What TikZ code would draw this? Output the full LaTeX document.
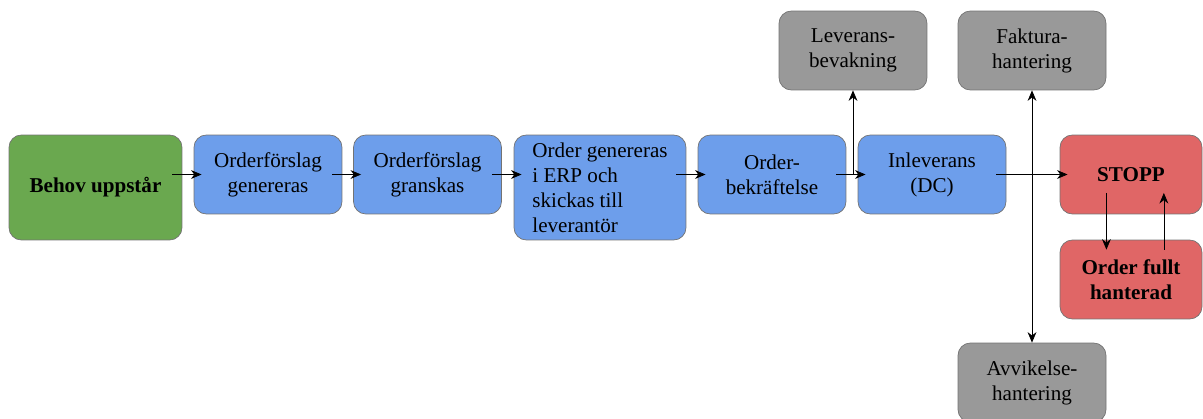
\documentclass[tikz,border=0pt]{standalone}
\usepackage{fontspec}
\setmainfont{Liberation Serif}
\usetikzlibrary{arrows.meta, positioning}
\definecolor{boxgreen}{HTML}{6AA84F}
\definecolor{boxblue}{HTML}{6D9EEB}
\definecolor{boxred}{HTML}{E06666}
\definecolor{boxgray}{HTML}{999999}
\begin{document}
\begin{tikzpicture}[x=0.02cm, y=-0.02cm,
    font=\fontsize{12}{14.2}\selectfont,
    stepnode/.style={rectangle, rounded corners=7pt, draw=black!55, thin, fill=boxblue, align=center, minimum width=2.96cm, minimum height=1.58cm, inner sep=2pt},
    startnode/.style={stepnode, fill=boxgreen, font=\fontsize{12}{14.2}\selectfont\bfseries, minimum width=3.46cm, minimum height=2.1cm},
    stopnode/.style={stepnode, fill=boxred, font=\fontsize{12}{14.2}\selectfont\bfseries, minimum width=2.84cm},
    sidenode/.style={stepnode, fill=boxgray},
    flow/.style={-{Stealth[length=6pt, width=5pt]}, thin, black},
    ]
    \useasboundingbox (0,0) rectangle (1203,419);
    %Nodes
    \node[startnode]  (behov)   at (95.5,187.5)  {Behov uppstår};
    \node[stepnode]   (forslag) at (268,174.5)   {Orderförslag\\genereras};
    \node[stepnode]   (granska) at (427.5,174.5) {Orderförslag\\granskas};
    \node[stepnode, minimum width=3.44cm, minimum height=2.1cm, align=left] (erp) at (600,187.5) {Order genereras\\i ERP och\\skickas till\\leverantör};
    \node[stepnode]   (bekr)    at (772,174.5)   {Order-\\bekräftelse};
    \node[stepnode]   (inlev)   at (932,174.5)   {Inleverans\\(DC)};
    \node[stopnode]   (stopp)   at (1131,174.5)  {STOPP};
    \node[stopnode]   (fullt)   at (1131,279.5)  {Order fullt\\hanterad};
    \node[sidenode]   (bevak)   at (853,50.5)    {Leverans-\\bevakning};
    \node[sidenode]   (faktura) at (1032,50.5)   {Faktura-\\hantering};
    \node[sidenode]   (avvik)   at (1032,382.5)  {Avvikelse-\\hantering};

    %Lines
    \draw[flow] ([xshift=-5.7pt]behov.east |- forslag.west) -- ([xshift=4.5pt]forslag.west);
    \draw[flow] ([xshift=-5.7pt]forslag.east) -- ([xshift=4.5pt]granska.west);
    \draw[flow] ([xshift=-5.7pt]granska.east) -- ([xshift=4.5pt]erp.west |- granska.west);
    \draw[flow] ([xshift=-5.7pt]erp.east |- bekr.west) -- ([xshift=4.5pt]bekr.west);
    \draw[flow] ([xshift=-5.7pt]bekr.east) -- ([xshift=4.5pt]inlev.west);
    \draw[flow] ([xshift=-5.7pt]inlev.east) -- ([xshift=4.5pt]stopp.west);
    \draw[flow] (bekr.east -| bevak.south) -- (bevak.south);
    \coordinate (split) at (inlev.east -| faktura.south);
    \draw[flow] (split) -- (faktura.south);
    \draw[flow] (split) -- (avvik.north);
    \draw[flow] ([xshift=-14pt, yshift=-10.5pt]stopp.center) -- ([xshift=-14pt, yshift=-5.7pt]fullt.north);
    \draw[flow] ([xshift=18.7pt, yshift=-5.7pt]fullt.north) -- ([xshift=18.7pt, yshift=-10.5pt]stopp.center);
  \end{tikzpicture}
\end{document}
